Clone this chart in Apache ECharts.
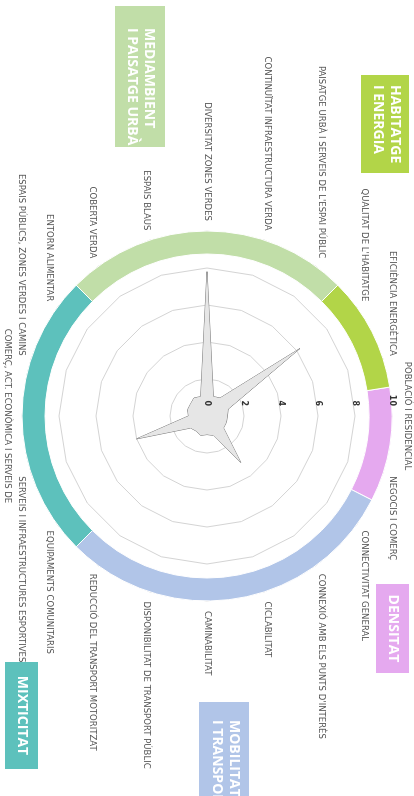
<!DOCTYPE html>
<html>
<head>
<meta charset="utf-8">
<script src="https://cdn.jsdelivr.net/npm/echarts@6.0.0/dist/echarts.min.js"></script>
<style>
html, body { margin: 0; padding: 0; background: #fff; overflow: hidden; }
#wrap { position: relative; width: 414px; height: 796px; overflow: hidden; }
/* chart is drawn landscape then turned a quarter clockwise */
#radar-chart { position: absolute; left: 0; top: 0; width: 796px; height: 414px; transform-origin: 0 0; transform: translate(414px, 0) rotate(90deg); }
</style>
</head>
<body>
<div id="wrap"><div id="radar-chart"></div></div>
<script>
// indicators, counter-clockwise starting from the top axis
const indicators = [
  'POBLACIÓ I RESIDENCIAL',
  'EFICIÈNCIA ENERGÈTICA',
  "QUALITAT DE L'HABITATGE",
  "PAISATGE URBÀ I SERVEIS DE L'ESPAI PÚBLIC",
  'CONTINUÏTAT INFRAESTRUCTURA VERDA',
  'DIVERSITAT ZONES VERDES',
  'ESPAIS BLAUS',
  'COBERTA VERDA',
  'ENTORN ALIMENTAR',
  'ESPAIS PÚBLICS, ZONES VERDES I CAMINS',
  'COMERÇ, ACT. ECONÒMICA I SERVEIS DE',
  'SERVEIS I INFRAESTRUCTURES ESPORTIVES',
  'EQUIPAMENTS COMUNITARIS',
  'REDUCCIÓ DEL TRANSPORT MOTORITZAT',
  'DISPONIBILITAT DE TRANSPORT PÚBLIC',
  'CAMINABILITAT',
  'CICLABILITAT',
  "CONNEXIÓ AMB ELS PUNTS D'INTERÈS",
  'CONNECTIVITAT GENERAL',
  'NEGOCIS I COMERÇ'
]
const scores = [1.1, 1.2, 6.2, 1.2, 1.1, 7.8, 1.1, 1.2, 1.1, 1.1, 1.0, 4.0, 1.1, 1.0, 1.1, 1.0, 1.1, 3.1, 1.1, 1.1]
const scoreMax = 10
const tickStep = 2

// groups around the ring, clockwise from the start of DENSITAT
const groupNames = ['DENSITAT', 'MOBILITAT\nI TRANSPORT', 'MIXTICITAT', 'MEDIAMBIENT\nI PAISATGE URBÀ', 'HABITATGE\nI ENERGIA']
const groupCounts = [2, 6, 5, 5, 2]
const groupColors = ['#e5a9ef', '#b1c5e8', '#5dc1bc', '#c1dea8', '#b2d548']

const center = [416, 207]
const radius = 185

const chart = echarts.init(document.getElementById('radar-chart'))

function box (i, x, y, w, h, tx, ty, align) {
  return [
    { type: 'rect', shape: { x: x, y: y, width: w, height: h }, style: { fill: groupColors[i] }, silent: true },
    {
      type: 'text',
      x: tx,
      y: ty,
      silent: true,
      style: {
        text: groupNames[i],
        fill: '#fff',
        fontSize: 14,
        fontWeight: 'bold',
        fontFamily: 'Open Sans',
        lineHeight: 17,
        align: align,
        verticalAlign: 'middle'
      }
    }
  ]
}

const option = {
  animation: false,
  backgroundColor: '#fff',
  radar: {
    center: center,
    radius: radius,
    startAngle: 90,
    shape: 'polygon',
    splitNumber: scoreMax / tickStep,
    nameGap: 10,
    axisName: {
      color: '#555',
      fontSize: 9.5,
      fontFamily: "'Liberation Sans Narrow', 'DejaVu Sans Condensed', sans-serif"
    },
    axisLine: { show: false },
    splitLine: { lineStyle: { color: '#d4d4d4', width: 1 } },
    splitArea: { show: false },
    indicator: indicators.map(name => ({ name: name, min: 0, max: scoreMax }))
  },
  polar: { center: center, radius: radius },
  angleAxis: { type: 'value', min: 0, max: 360, show: false },
  radiusAxis: {
    type: 'value',
    min: 0,
    max: scoreMax,
    interval: tickStep,
    axisLine: { show: false },
    axisTick: { show: false },
    splitLine: { show: false },
    axisLabel: { fontSize: 8, fontWeight: 'bold', color: '#333', margin: 10, fontFamily: 'DejaVu Sans' },
    z: 10
  },
  series: [
    {
      type: 'pie',
      center: center,
      radius: [162, 185],
      startAngle: 99,
      clockwise: true,
      silent: true,
      label: { show: false },
      labelLine: { show: false },
      itemStyle: { borderColor: '#fff', borderWidth: 1 },
      data: groupNames.map((name, i) => ({ name: name, value: groupCounts[i], itemStyle: { color: groupColors[i] } }))
    },
    {
      type: 'radar',
      symbol: 'none',
      lineStyle: { color: '#777', width: 1 },
      areaStyle: { color: '#e6e6e6', opacity: 1 },
      data: [{ value: scores, name: 'valor' }]
    }
  ],
  graphic: [].concat(
    box(3, 6, 249, 141, 50, 28, 274, 'left'),
    box(4, 75, 5, 98, 48, 85, 28, 'left'),
    box(0, 584, 5, 89, 33, 628.5, 21.5, 'center'),
    box(1, 702, 165, 110, 50, 720, 189, 'left'),
    box(2, 662, 376, 107, 33, 715.5, 392.5, 'center')
  )
}
chart.setOption(option)
</script>
</body>
</html>
